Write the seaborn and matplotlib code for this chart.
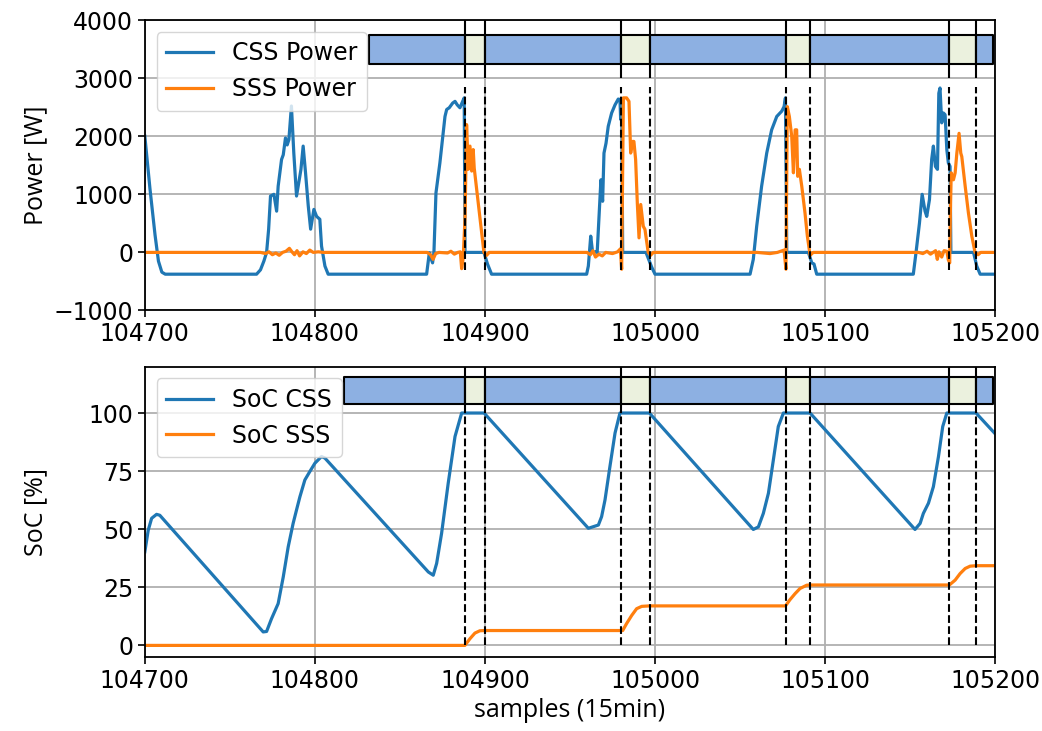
import matplotlib
matplotlib.use("Agg")
import matplotlib.pyplot as plt
import seaborn as sns
import pandas as pd

# ---------------- data ----------------
css_power = [
    (104700, 2000), (104703, 1100), (104706, 300), (104708, -150), (104710, -340), (104712, -375),
    (104765.7, -375), (104768, -300), (104770, -150), (104771.6, 0), (104772.8, 400), (104773.9, 970),
    (104775.9, 1000), (104777.5, 710), (104778.4, 1140), (104780.4, 1600), (104781.4, 1680),
    (104782.7, 1970), (104783.7, 1850), (104784.7, 1940), (104786.2, 2520), (104787.6, 1710),
    (104789.2, 970), (104790.8, 1250), (104791.8, 1430), (104793.1, 1830), (104794.5, 1370),
    (104796.1, 800), (104797.5, 400), (104799.4, 740), (104801, 620), (104802.9, 570),
    (104803.9, 110), (104805.9, -235), (104807.8, -375),
    (104865.7, -375), (104867.3, -5), (104868, -80), (104869.2, -180), (104870, 0), (104871.2, 1025),
    (104873.5, 1540), (104876.5, 2340), (104877.5, 2460), (104879, 2490), (104881, 2570),
    (104882.4, 2600), (104883.7, 2540), (104885.3, 2490), (104886.9, 2600), (104887.8, 2660),
    (104888.3, 0), (104899.4, 0), (104901.5, -200), (104903.9, -375),
    (104959.8, -375), (104960.8, -235), (104962.2, 280), (104963.3, 0), (104964.7, 10), (104966, 0),
    (104967.6, 910), (104968.2, 1250), (104969.2, 880), (104970, 1710), (104971.2, 1880),
    (104972.5, 2170), (104974.5, 2400), (104976.5, 2540), (104978.4, 2640), (104979.4, 2630),
    (104979.8, 2290), (104980.4, 2630), (104981, 0), (104994.7, 0), (104998, -250), (105000, -375),
    (105055.9, -375), (105057.8, -120), (105059.8, 450), (105062.7, 1140), (105065.7, 1710),
    (105068.6, 2110), (105071.6, 2340), (105074.5, 2430), (105075.9, 2510), (105076.7, 2660),
    (105077.5, 0), (105090.2, 0), (105092.2, -180), (105093.5, -200), (105095.1, -375),
    (105151.9, -375), (105153.5, 0), (105155.5, 500), (105157.1, 1000), (105158.8, 710),
    (105159.8, 620), (105161.4, 910), (105162.7, 1600), (105163.7, 1830), (105164.9, 1480),
    (105166.1, 1430), (105166.9, 2740), (105167.6, 2830), (105168.6, 2230), (105169.6, 2400),
    (105170.6, 2370), (105171.6, 1770), (105172.5, 1540), (105173.5, 1480), (105174, 0),
    (105187.3, 0), (105189.2, -235), (105191.2, -375), (105200, -375),
]

sss_power = [
    (104700, 0), (104768, 0), (104771, -20), (104773, 10), (104775, -40), (104777, -10),
    (104779, -50), (104781, 0), (104783, 20), (104785, 70), (104786.5, 10), (104788, -40),
    (104789.5, 30), (104791, -60), (104793, 10), (104795, -20), (104797, 40), (104799, 0),
    (104802, 10), (104805, 0),
    (104866, 0), (104868, -40), (104869.5, -120), (104871, -20), (104873, 0), (104878, -10),
    (104880, 20), (104882, -30), (104884, 0), (104885.5, 10), (104886.3, -280), (104887.2, -100),
    (104888.3, 600), (104889.2, 2200), (104890.2, 1430), (104891.2, 1830), (104892.2, 1400),
    (104893.1, 1770), (104893.7, 1450), (104899.4, 0), (104901, -50), (104902.5, 0),
    (104960, 0), (104962, -40), (104963.5, 30), (104965, -80), (104967, -30), (104969, -60),
    (104971, 0), (104975, -20), (104978, 10), (104979.6, 60), (104980.4, -290), (104981.4, 2660),
    (104983.3, 2660), (104984.7, 2600), (104985.7, 1710), (104986.7, 1910), (104987.6, 1910),
    (104988.6, 1600), (104989.6, 850), (104990.6, 250), (104991.6, 825), (104993.1, 450),
    (104994.1, 395), (104996, 0), (104997.4, -50), (104999, 0),
    (105060, 0), (105067.6, -20), (105072, 0), (105075.9, 40), (105077, -290), (105077.8, 2510),
    (105079, 2340), (105080.4, 2000), (105081.4, 1370), (105082.4, 2110), (105083.3, 2110),
    (105083.9, 1310), (105084.9, 1430), (105086.3, 1140), (105088.2, 680), (105089.6, 280),
    (105091.2, -50), (105093, 0),
    (105155, 0), (105157.5, -20), (105160, 20), (105162, -30), (105163.5, 0), (105165, 30),
    (105166, -120), (105167, 10), (105168.6, -80), (105170, 30), (105171.6, 20), (105172.5, -130),
    (105173.3, -180), (105173.7, 700), (105174.2, 1370), (105175.5, 1250), (105176.5, 1370),
    (105177.5, 1710), (105178.8, 2050), (105179.8, 1710), (105180.4, 1650), (105182.4, 1140),
    (105184.3, 680), (105186.3, 280), (105188.2, 0), (105190, -40), (105191.5, 0), (105200, 0),
]

soc_css = [
    (104700, 40.3), (104702, 49.6), (104704, 54.7), (104706.9, 56.4), (104708.8, 56),
    (104769.6, 5.8), (104771.6, 6), (104774.5, 11.5), (104778.4, 18), (104781.4, 29.5),
    (104784.3, 42.4), (104787.2, 52.5), (104789.2, 58.3), (104791.2, 64), (104794.1, 71.2),
    (104797, 74.8), (104800, 78.4), (104803.9, 81.3), (104805.9, 80.6),
    (104866.7, 31.6), (104869.6, 30.2), (104871.6, 35.3), (104874.5, 48.2), (104878.4, 69.8),
    (104882.4, 89.9), (104886.3, 100), (104899.5, 100),
    (104960.8, 50.4), (104966.7, 51.8), (104968.6, 55.4), (104970.6, 62.6), (104973.5, 77),
    (104976.5, 91.4), (104979.4, 100), (104996.7, 100),
    (105057.8, 49.9), (105060.8, 51), (105063.7, 56.8), (105066.7, 65.5), (105069.6, 79.8),
    (105072.5, 94.2), (105075.5, 100), (105091.2, 100),
    (105152.9, 49.9), (105155.9, 52.5), (105157.8, 56.8), (105160.8, 61.2), (105163.7, 68.3),
    (105166.7, 81.3), (105169.2, 94.2), (105171.6, 100), (105188.8, 100), (105200, 91.1),
]

soc_sss = [
    (104700, 0), (104888.2, 0), (104891.2, 2.9), (104894.1, 5.3), (104897, 6.3), (104900, 6.4),
    (104981, 6.4), (104983.3, 9.4), (104986.3, 12.9), (104989.2, 15.8), (104992.2, 16.8),
    (104996.7, 17), (105076.7, 17), (105079.4, 19.7), (105082.4, 22.3), (105085.3, 24.5),
    (105089.2, 25.9), (105091, 26), (105173.1, 26), (105176.5, 28.1), (105179.4, 30.9),
    (105182.4, 33.1), (105185.3, 34.1), (105188.8, 34.3), (105200, 34.3),
]

# mode transitions (dashed lines) and state bars
transitions = [104888, 104900, 104980, 104997, 105077, 105091, 105173, 105189]
bar_start_power = 104832
bar_start_soc = 104817
bar_end = 105199

xticks = [104700, 104800, 104900, 105000, 105100, 105200]
power_ticks = [-1000, 0, 1000, 2000, 3000, 4000]
soc_ticks = [0, 25, 50, 75, 100]

# ---------------- style ----------------
BLUE = "#1f77b4"
ORANGE = "#ff7f0e"
BAR_BLUE = "#8db0e2"
BAR_GREEN = "#ebf1de"
TICK_FS = 17
LABEL_FONT = ["Open Sans", "DejaVu Sans"]

plt.rcParams["axes.linewidth"] = 1.3
plt.rcParams["xtick.major.width"] = 1.2
plt.rcParams["ytick.major.width"] = 1.2
plt.rcParams["xtick.major.size"] = 5
plt.rcParams["ytick.major.size"] = 5
plt.rcParams["font.family"] = ["DejaVu Sans"]

fig, (ax1, ax2) = plt.subplots(2, 1, figsize=(10.42, 7.31), dpi=100)
fig.subplots_adjust(left=0.139, right=0.955, top=0.9726, bottom=0.1012, hspace=0.193)


def frame(pairs, name):
    return pd.DataFrame(pairs, columns=["x", name])


def state_bar(ax, start, y0, h):
    edges = [start] + transitions + [bar_end]
    ranges = [(edges[i], edges[i + 1] - edges[i]) for i in range(len(edges) - 1)]
    colors = [BAR_BLUE if i % 2 == 0 else BAR_GREEN for i in range(len(ranges))]
    ax.broken_barh(ranges, (y0, h), facecolors=colors, edgecolor="black", linewidth=1.5, zorder=3)


# ---- top: power ----
d = frame(css_power, "p")
sns.lineplot(data=d, x="x", y="p", ax=ax1, color=BLUE, lw=2.3, label="CSS Power",
             estimator=None, sort=False)
d = frame(sss_power, "p")
sns.lineplot(data=d, x="x", y="p", ax=ax1, color=ORANGE, lw=2.3, label="SSS Power",
             estimator=None, sort=False)
ax1.vlines(transitions, -300, 2850, colors="black", linestyles="--", lw=1.5, zorder=4)
ax1.vlines(transitions, 3000, 4000, colors="black", lw=1.5, zorder=4)
state_bar(ax1, bar_start_power, 3250, 500)
ax1.set_xlim(104700, 105200)
ax1.set_ylim(-1000, 4000)
ax1.set_yticks(power_ticks)
ax1.set_xticks(xticks)
ax1.set_ylabel("Power [W]", fontsize=18, family=LABEL_FONT)
ax1.set_xlabel("")

# ---- bottom: SoC ----
d = frame(soc_css, "s")
sns.lineplot(data=d, x="x", y="s", ax=ax2, color=BLUE, lw=2.3, label="SoC CSS",
             estimator=None, sort=False)
d = frame(soc_sss, "s")
sns.lineplot(data=d, x="x", y="s", ax=ax2, color=ORANGE, lw=2.3, label="SoC SSS",
             estimator=None, sort=False)
ax2.vlines(transitions, 0, 100, colors="black", linestyles="--", lw=1.5, zorder=4)
ax2.vlines(transitions, 100, 120, colors="black", lw=1.5, zorder=4)
state_bar(ax2, bar_start_soc, 104, 11.5)
ax2.set_xlim(104700, 105200)
ax2.set_ylim(-5, 120)
ax2.set_yticks(soc_ticks)
ax2.set_xticks(xticks)
ax2.set_ylabel("SoC [%]", fontsize=18, family=LABEL_FONT)
ax2.set_xlabel("samples (15min)", fontsize=18, family=LABEL_FONT)

for ax in (ax1, ax2):
    ax.grid(True, color="#b0b0b0", lw=1.3)
    ax.set_axisbelow(True)
    ax.tick_params(labelsize=TICK_FS)
    ax.set_xticklabels([str(t) for t in xticks])
    leg = ax.legend(loc="upper left", fontsize=TICK_FS, framealpha=0.8)
    leg.set_zorder(10)

fig.align_ylabels([ax1, ax2])
fig.savefig("out.png", dpi=100)
